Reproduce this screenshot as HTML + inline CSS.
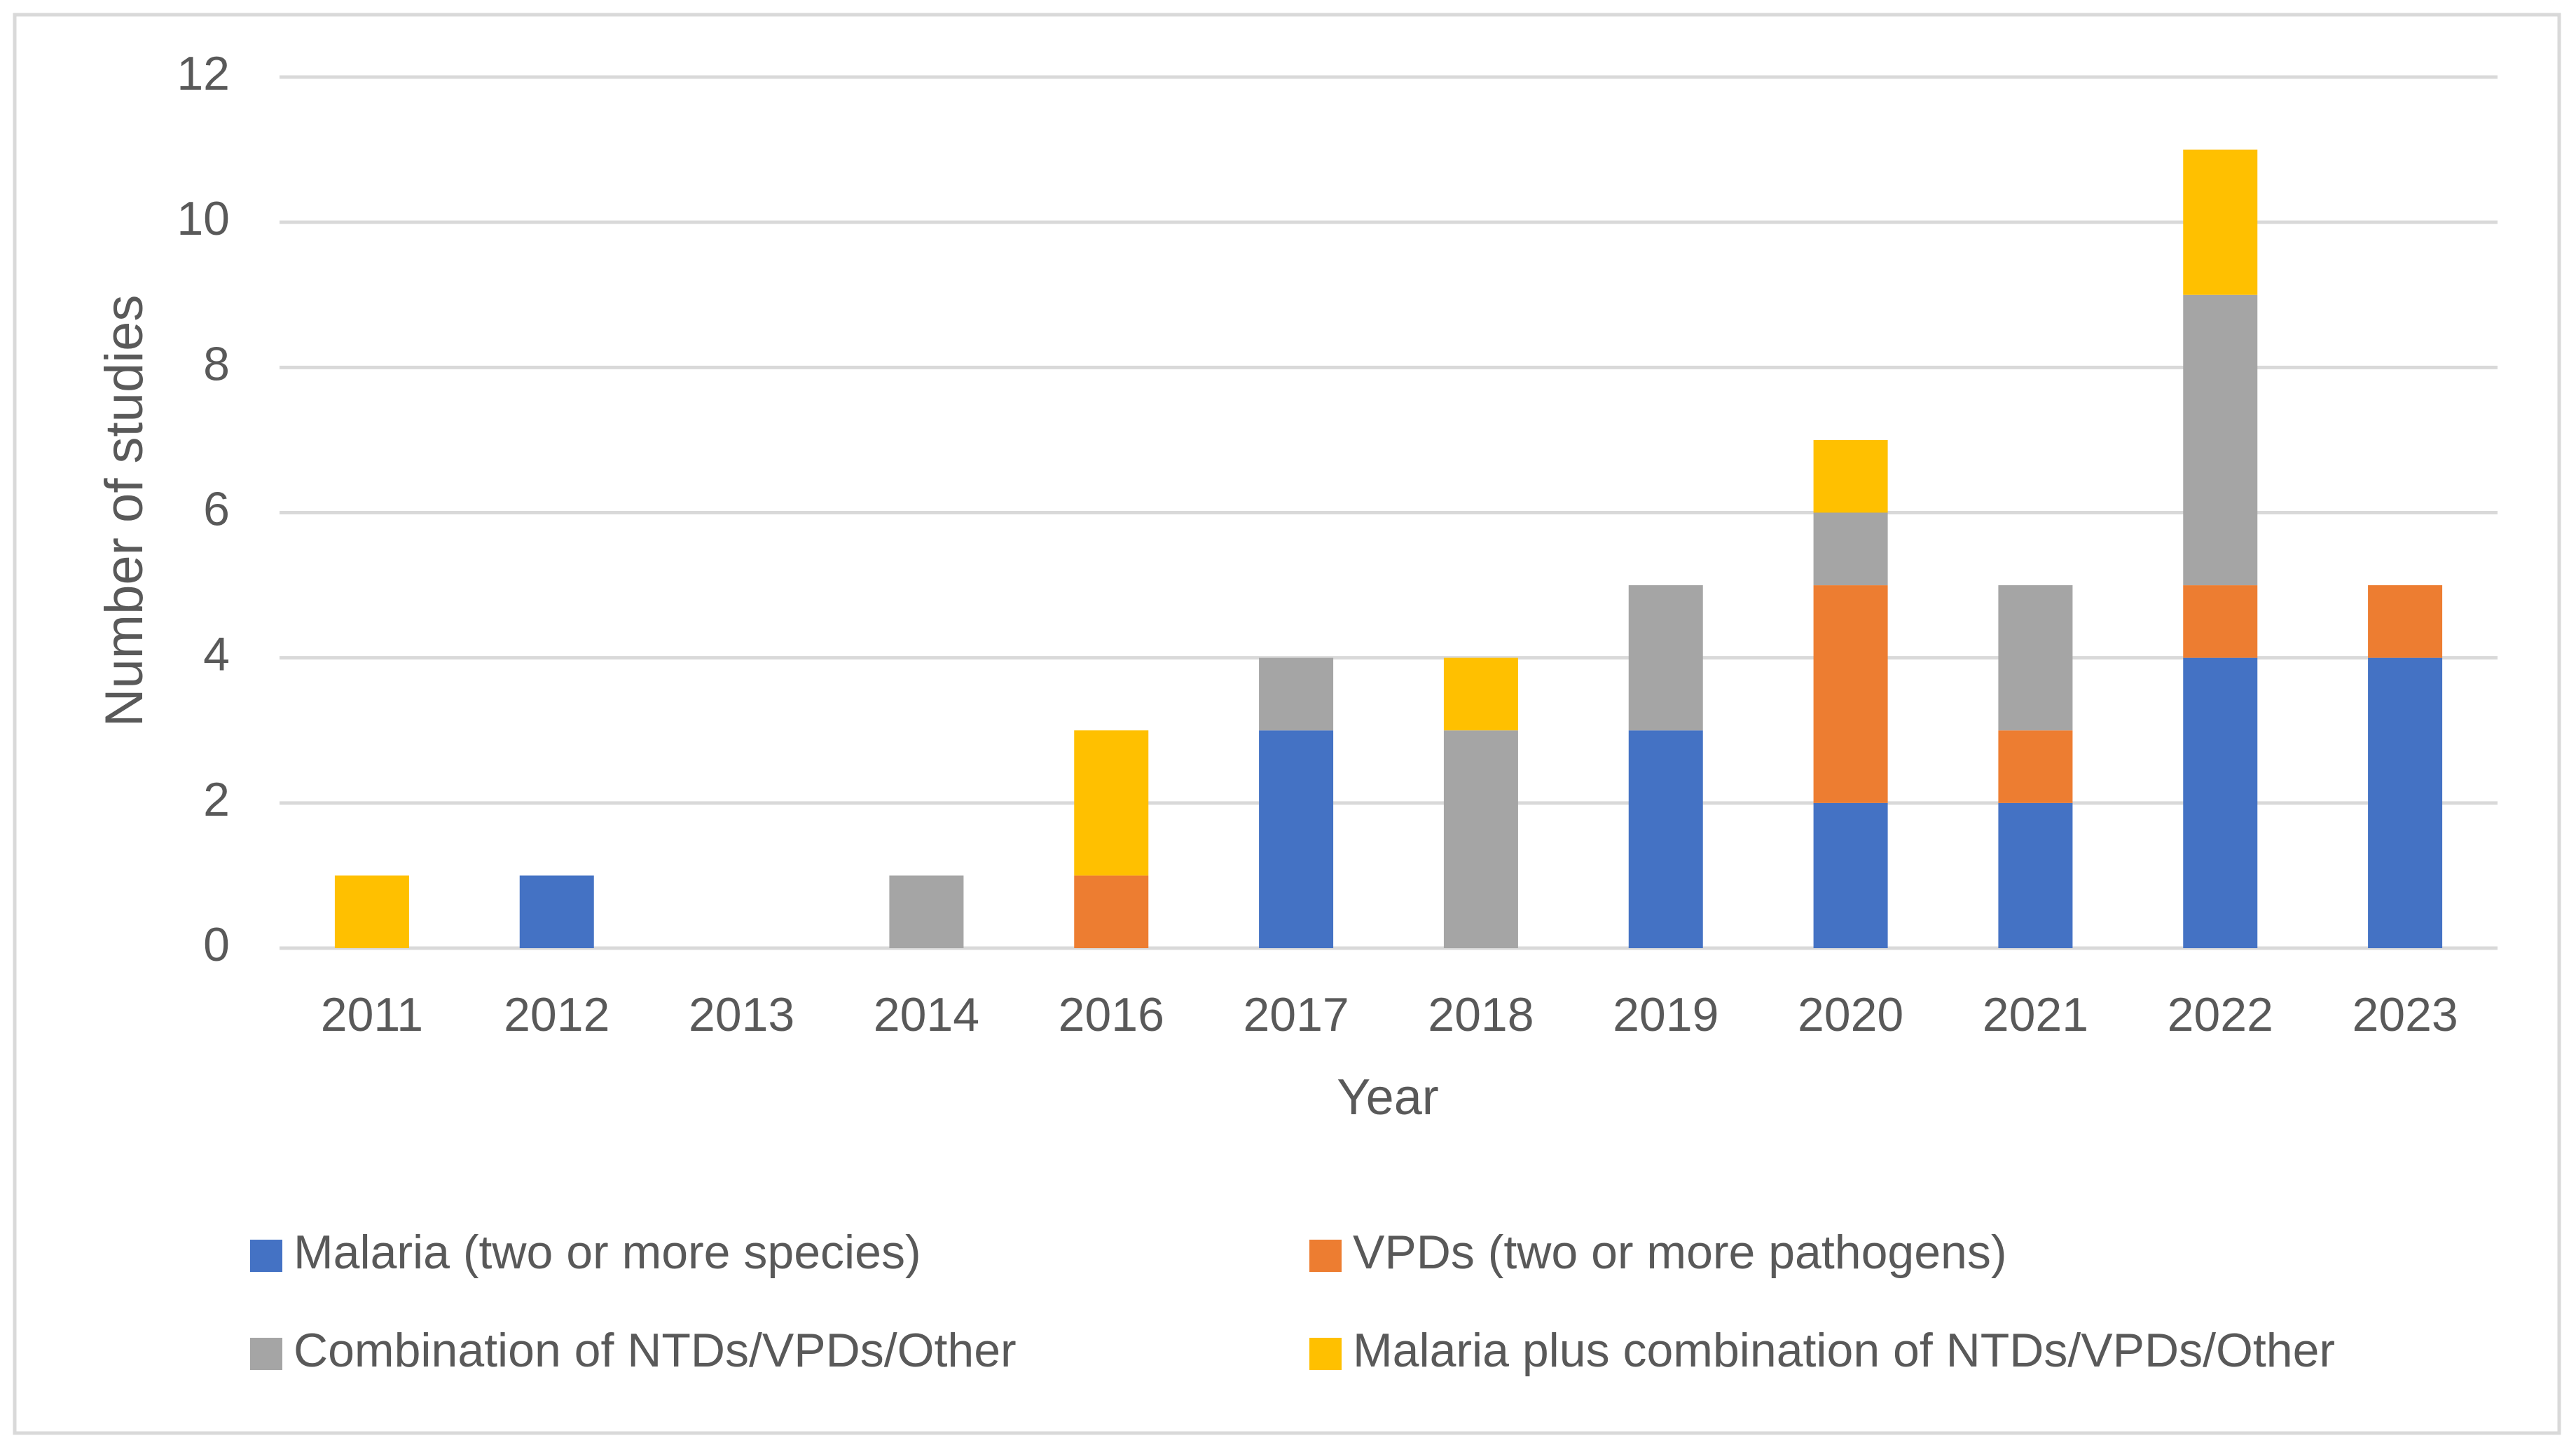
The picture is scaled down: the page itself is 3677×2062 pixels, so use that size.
<!DOCTYPE html>
<html><head><meta charset="utf-8"><style>
html,body{margin:0;padding:0;background:#fff;}
svg{display:block;}
text{font-family:"Liberation Sans",sans-serif;fill:#595959;}
</style></head><body>
<svg id="chart" width="3677" height="2062" xmlns="http://www.w3.org/2000/svg">
<rect x="21" y="21" width="3632" height="2024" fill="#fff" stroke="#D9D9D9" stroke-width="5"/>
<g id="grid"></g><g id="bars"></g><g id="xlabels"></g><g id="ylabels"></g>
<text x="183" y="729" font-size="76" text-anchor="middle" dominant-baseline="middle" transform="rotate(-90 183 729)">Number of studies</text>
<text x="1981" y="1571" font-size="72" text-anchor="middle" dominant-baseline="middle">Year</text>
<g id="legend"></g>
</svg>
<script>
const categories=["2011","2012","2013","2014","2016","2017","2018","2019","2020","2021","2022","2023"];
const malaria=[0,1,0,0,0,3,0,3,2,2,4,4];
const vpds=[0,0,0,0,1,0,0,0,3,1,1,1];
const combo=[0,0,0,1,0,1,3,2,1,2,4,0];
const malariaPlus=[1,0,0,0,2,0,1,0,1,0,2,0];
const yTicks=[0,2,4,6,8,10,12];
const seriesNames=["Malaria (two or more species)","VPDs (two or more pathogens)","Combination of NTDs/VPDs/Other","Malaria plus combination of NTDs/VPDs/Other"];
const colors=["#4472C4","#ED7D31","#A5A5A5","#FFC000"];
const series=[malaria,vpds,combo,malariaPlus];
const NS="http://www.w3.org/2000/svg";
const x0=399,x1=3565,y0=1353,yTop=110,yMax=12;
const band=(x1-x0)/categories.length,barW=106;
const y=v=>y0-(y0-yTop)*v/yMax;
const xc=i=>x0+band*(i+0.5);
function mk(tag,attrs,parent){const e=document.createElementNS(NS,tag);for(const k in attrs)e.setAttribute(k,attrs[k]);parent.appendChild(e);return e;}
const g=document.getElementById('grid'),b=document.getElementById('bars'),xl=document.getElementById('xlabels'),yl=document.getElementById('ylabels'),lg=document.getElementById('legend');
yTicks.forEach(t=>{
 const l=mk('line',{x1:x0,x2:x1,y1:y(t),y2:y(t),stroke:'#D9D9D9','stroke-width':5},g);
 
 
 const tx=mk('text',{x:328,y:y(t),'font-size':68,'text-anchor':'end','dominant-baseline':'middle'},yl);
 tx.textContent=t;
 
 
});
categories.forEach((c,i)=>{
 let acc=0;
 series.forEach((s,k)=>{
  if(s[i]>0){
   const r=mk('rect',{x:xc(i)-barW/2,y:y(acc+s[i]),width:barW,height:y(acc)-y(acc+s[i]),fill:colors[k]},b);
   
   
  }
  acc+=s[i];
 });
 const tx=mk('text',{x:xc(i),y:1453,'font-size':68,'text-anchor':'middle','dominant-baseline':'middle'},xl);
 tx.textContent=c;
 
 
});
const lx=[357,1869],ly=[1792,1932];
seriesNames.forEach((n,k)=>{
 const cx=lx[k%2],cy=ly[Math.floor(k/2)];
 const r=mk('rect',{x:cx,y:cy-23,width:46,height:46,fill:colors[k]},lg);
 
 
 const t=mk('text',{x:cx+62,y:cy,'font-size':68,'dominant-baseline':'middle'},lg);
 t.textContent=n;
 
 
});
</script>
</body></html>
